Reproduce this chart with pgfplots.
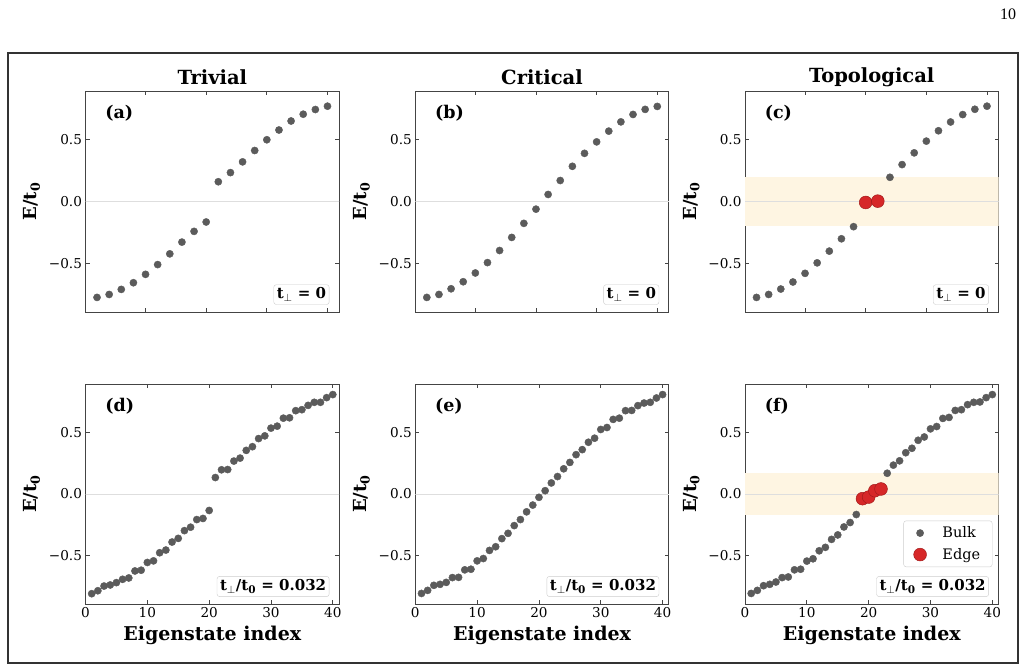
\documentclass[border=0pt]{standalone}
\usepackage{pgfplots}
\pgfplotsset{compat=1.18}
\usepackage{pgfplotstable}
\usepackage{fontspec}
\setmainfont{DejaVu Serif}
\newfontfamily\pagefont{Liberation Serif}
\definecolor{ptgray}{HTML}{5B5B5B}
\definecolor{edgered}{HTML}{D62728}
\definecolor{edgeredd}{HTML}{A31B1B}
\definecolor{bandc}{HTML}{FEF5E2}
\definecolor{spine}{HTML}{444444}

% ---------- data ----------
\pgfplotstableread{
x y
2 -0.777
4 -0.753
6 -0.712
8 -0.658
10 -0.590
12 -0.511
14 -0.424
16 -0.329
18 -0.242
20 -0.166
22 0.160
24 0.234
26 0.321
28 0.413
30 0.500
32 0.579
34 0.652
36 0.707
38 0.745
40 0.772
}\dataA
\pgfplotstableread{
x y
2 -0.777
4 -0.753
6 -0.707
8 -0.650
10 -0.579
12 -0.495
14 -0.397
16 -0.291
18 -0.177
20 -0.062
22 0.057
24 0.170
26 0.285
28 0.390
30 0.483
32 0.570
34 0.645
36 0.705
38 0.746
40 0.770
}\dataB
\pgfplotstableread{
x y
2 -0.777
4 -0.753
6 -0.709
8 -0.652
10 -0.582
12 -0.497
14 -0.402
16 -0.302
18 -0.204
24 0.196
26 0.299
28 0.394
30 0.489
32 0.573
34 0.644
36 0.704
38 0.747
40 0.772
}\dataC
\pgfplotstableread{
x y
20 -0.008
22 0.003
}\dataCedge
\pgfplotstableread{
x y
1 -0.811
2 -0.787
3 -0.749
4 -0.740
5 -0.721
6 -0.694
7 -0.683
8 -0.626
9 -0.620
10 -0.557
11 -0.544
12 -0.478
13 -0.456
14 -0.391
15 -0.361
16 -0.298
17 -0.270
18 -0.208
19 -0.199
20 -0.134
21 0.134
22 0.197
23 0.199
24 0.268
25 0.292
26 0.355
27 0.385
28 0.451
29 0.473
30 0.536
31 0.552
32 0.617
33 0.620
34 0.678
35 0.686
36 0.721
37 0.746
38 0.746
39 0.784
40 0.809
}\dataD
\pgfplotstableread{
x y
1 -0.809
2 -0.784
3 -0.743
4 -0.735
5 -0.719
6 -0.680
7 -0.678
8 -0.617
9 -0.612
10 -0.544
11 -0.525
12 -0.459
13 -0.429
14 -0.363
15 -0.320
16 -0.257
17 -0.208
18 -0.145
19 -0.090
20 -0.027
21 0.027
22 0.090
23 0.142
24 0.205
25 0.257
26 0.320
27 0.361
28 0.421
29 0.454
30 0.525
31 0.541
32 0.607
33 0.617
34 0.678
35 0.680
36 0.719
37 0.740
38 0.746
39 0.781
40 0.809
}\dataE
\pgfplotstableread{
x y
1 -0.809
2 -0.784
3 -0.746
4 -0.735
5 -0.716
6 -0.680
7 -0.675
8 -0.617
9 -0.612
10 -0.546
11 -0.527
12 -0.462
13 -0.434
14 -0.369
15 -0.333
16 -0.268
17 -0.232
18 -0.167
23 0.169
24 0.235
25 0.270
26 0.336
27 0.372
28 0.437
29 0.464
30 0.530
31 0.549
32 0.615
33 0.623
34 0.680
35 0.686
36 0.727
37 0.746
38 0.749
39 0.784
40 0.809
}\dataF
\pgfplotstableread{
x y
19 -0.038
20 -0.025
21 0.027
22 0.041
}\dataFedge

\tikzset{
  plab/.style={font=\fontsize{17.5}{20}\selectfont\bfseries, anchor=west},
  tbox/.style={anchor=south east, draw=black!20, rounded corners=2.5pt, fill=white, inner sep=3pt, font=\fontsize{15}{18}\selectfont\bfseries},
}
\pgfplotsset{
  panel/.style={
    scale only axis, width=253.5pt, height=221pt,
    anchor=north west,
    ymin=-0.895, ymax=0.895,
    ytick={-0.5,0,0.5}, yticklabels={−0.5,0.0,0.5},
    xtick={0,10,20,30,40},
    tick align=inside,
    major tick length=4pt,
    axis line style={spine, line width=0.9pt},
    every tick/.style={spine, line width=0.8pt},
    tick label style={font=\fontsize{13.6}{16}\selectfont},
    ylabel={\textbf{E/t\textsubscript{0}}},
    ylabel style={font=\fontsize{18}{21}\selectfont, at={(axis description cs:-0.212,0.5)}, anchor=center},
    xlabel style={font=\fontsize{19}{22}\selectfont\bfseries, at={(axis description cs:0.5,-0.144)}, anchor=center},
  },
  toprow/.style={xmin=0.1, xmax=41.9, xticklabels={}},
  botrow/.style={xmin=0, xmax=41, xlabel={Eigenstate index}, xticklabels={0,10,20,30,40}},
  bulk/.style={only marks, mark=*, mark size=3.6pt, color=ptgray, mark options={fill=ptgray, draw=none}},
  edge/.style={only marks, mark=*, mark size=6.4pt, color=edgered, mark options={fill=edgered, draw=edgeredd, line width=0.5pt}},
  zeroline/.style={forget plot, draw=black!13, line width=0.7pt},
}

\begin{document}
\begin{tikzpicture}
\useasboundingbox (0pt,0pt) rectangle (1026pt,-671pt);
\node[font=\pagefont\fontsize{16}{18}\selectfont] at (1008pt,-14pt) {10};
\draw[line width=1.3pt, black!80] (8pt,-53pt) rectangle (1018pt,-663pt);

\node[font=\fontsize{19.5}{22}\selectfont\bfseries] at (212.3pt,-77pt) {Trivial};
\node[font=\fontsize{19.5}{22}\selectfont\bfseries] at (542pt,-77pt) {Critical};
\node[font=\fontsize{19.5}{22}\selectfont\bfseries] at (871.7pt,-77pt) {Topological};

% (a)
\begin{axis}[panel, toprow, at={(85.5pt,-91pt)}]
\addplot[zeroline] coordinates {(-5,0) (50,0)};
\addplot[bulk] table {\dataA};
\node[plab] at (rel axis cs:0.064,0.9) {(a)};
\node[tbox] at (rel axis cs:0.962,0.033) {t\textsubscript{$\perp$} = 0};
\end{axis}

% (b)
\begin{axis}[panel, toprow, at={(415.3pt,-91pt)}]
\addplot[zeroline] coordinates {(-5,0) (50,0)};
\addplot[bulk] table {\dataB};
\node[plab] at (rel axis cs:0.064,0.9) {(b)};
\node[tbox] at (rel axis cs:0.962,0.033) {t\textsubscript{$\perp$} = 0};
\end{axis}

% (c)
\begin{axis}[panel, toprow, at={(745pt,-91pt)}]
\fill[bandc] (axis cs:-5,-0.2) rectangle (axis cs:50,0.2);
\addplot[zeroline] coordinates {(-5,0) (50,0)};
\addplot[bulk] table {\dataC};
\addplot[edge] table {\dataCedge};
\node[plab] at (rel axis cs:0.064,0.9) {(c)};
\node[tbox] at (rel axis cs:0.962,0.033) {t\textsubscript{$\perp$} = 0};
\end{axis}

% (d)
\begin{axis}[panel, botrow, at={(85.5pt,-384pt)}, height=220pt]
\addplot[zeroline] coordinates {(-5,0) (50,0)};
\addplot[bulk] table {\dataD};
\node[plab] at (rel axis cs:0.064,0.9) {(d)};
\node[tbox] at (rel axis cs:0.962,0.033) {t\textsubscript{$\perp$}/t\textsubscript{0} = 0.032};
\end{axis}

% (e)
\begin{axis}[panel, botrow, at={(415.3pt,-384pt)}, height=220pt]
\addplot[zeroline] coordinates {(-5,0) (50,0)};
\addplot[bulk] table {\dataE};
\node[plab] at (rel axis cs:0.064,0.9) {(e)};
\node[tbox] at (rel axis cs:0.962,0.033) {t\textsubscript{$\perp$}/t\textsubscript{0} = 0.032};
\end{axis}

% (f)
\begin{axis}[panel, botrow, at={(745pt,-384pt)}, height=220pt,
  legend style={at={(rel axis cs:0.976,0.168)}, anchor=south east, draw=black!20, rounded corners=2.5pt,
    font=\fontsize{14.5}{17}\selectfont, row sep=5pt, column sep=14pt, inner xsep=10pt, inner ysep=4pt},
  legend cell align=left]
\fill[bandc] (axis cs:-5,-0.171) rectangle (axis cs:50,0.171);
\addplot[zeroline] coordinates {(-5,0) (50,0)};
\addplot[bulk] table {\dataF};
\addlegendentry{Bulk}
\addplot[edge] table {\dataFedge};
\addlegendentry{Edge}
\node[plab] at (rel axis cs:0.064,0.9) {(f)};
\node[tbox] at (rel axis cs:0.962,0.033) {t\textsubscript{$\perp$}/t\textsubscript{0} = 0.032};
\end{axis}
\end{tikzpicture}
\end{document}
